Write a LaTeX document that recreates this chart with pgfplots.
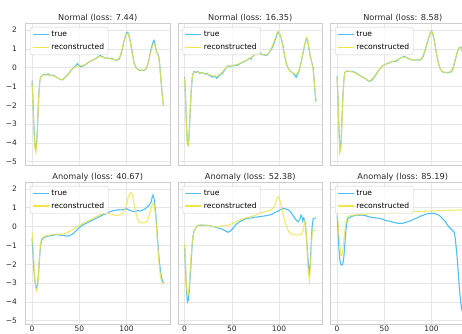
\documentclass[border=0pt]{standalone}
\usepackage{fontspec}
\setmainfont{DejaVu Sans}
\usepackage{pgfplots}
\pgfplotsset{compat=1.18}
\definecolor{trueblue}{RGB}{80,192,242}
\definecolor{reconyellow}{RGB}{240,228,70}
\definecolor{gridgray}{RGB}{230,230,230}
\definecolor{framegray}{RGB}{205,205,205}
\definecolor{labelgray}{RGB}{40,40,40}
\pgfplotsset{
  panel/.style={
    scale only axis, width=144.5pt, height=142pt,
    xmin=-6.95, xmax=145.95, ymin=-5.2, ymax=2.35,
    xtick={0,50,100}, ytick={-5,-4,-3,-2,-1,0,1,2},
    grid=major, major grid style={draw=gridgray, line width=0.6pt},
    axis line style={draw=framegray, line width=0.6pt},
    major tick length=0pt,
    tick label style={font=\fontsize{7.5}{9}\selectfont, text=labelgray},
    yticklabel style={xshift=-5pt},
    xticklabel style={inner ysep=1pt},
    title style={font=\fontsize{8.2}{10}\selectfont, text=labelgray, yshift=-8pt},
    legend style={at={(0,1)}, anchor=north west, xshift=4.5pt, yshift=-3.5pt,
      draw=framegray, rounded corners=2pt, fill=white, fill opacity=0.8, text opacity=1,
      font=\fontsize{7.6}{8.5}\selectfont, inner xsep=2pt, inner ysep=2pt,
      row sep=1.5pt, cells={anchor=west}},
    legend image code/.code={\draw[##1, opacity=1, line width=1.2pt] (0pt,0pt) -- (16pt,0pt);},
  },
  tl/.style={color=trueblue, line width=1.1pt},
  rl/.style={color=reconyellow, line width=1.1pt, opacity=0.8},
  leftcol/.style={yticklabels={−5,−4,−3,−2,−1,0,1,2}},
  othercol/.style={yticklabels={}},
  toprow/.style={xticklabels={}},
  botrow/.style={xticklabels={0,50,100}},
}
\begin{document}
\begin{tikzpicture}
\useasboundingbox (0,0) rectangle (462pt,333pt);
\clip (0,0) rectangle (462pt,333pt);
% ---------- Panel 1
\begin{axis}[panel, leftcol, toprow, at={(25.5pt,167.5pt)}, anchor=south west, title={Normal (loss: 7.44)}]
\addplot[tl] coordinates {(0,-0.7) (1,-1.8) (2,-3.2) (3,-4.1) (4,-4.35) (5,-3.9) (6,-2.8) (7,-1.6) (8,-0.8) (9,-0.5) (11,-0.4) (13,-0.35) (15,-0.38) (17,-0.33) (19,-0.4) (21,-0.42) (23,-0.4) (25,-0.48) (27,-0.55) (29,-0.6) (31,-0.65) (33,-0.62) (35,-0.5) (37,-0.4) (39,-0.3) (41,-0.15) (43,-0.05) (45,0.05) (47,0.15) (48,0.22) (50,0.1) (52,0.05) (54,0.1) (56,0.15) (58,0.22) (60,0.3) (62,0.35) (64,0.4) (66,0.45) (68,0.5) (70,0.58) (72,0.65) (74,0.6) (76,0.55) (78,0.5) (80,0.52) (82,0.48) (84,0.5) (86,0.45) (88,0.42) (90,0.4) (92,0.45) (94,0.7) (96,1.1) (98,1.55) (100,1.85) (101,1.88) (102,1.8) (104,1.4) (106,0.8) (108,0.25) (110,0.0) (112,-0.08) (114,-0.15) (116,-0.12) (118,-0.15) (120,-0.1) (122,0.1) (124,0.5) (126,1.0) (128,1.35) (129,1.45) (130,1.3) (131,1.0) (132,0.8) (133,0.75) (134,0.6) (135,0.2) (136,-0.4) (137,-1.0) (138,-1.6) (139,-2.0)};
\addlegendentry{true}
\addplot[rl] coordinates {(0,-0.8) (1,-2.0) (2,-3.4) (3,-4.3) (4,-4.5) (5,-4.0) (6,-2.8) (7,-1.6) (8,-0.8) (9,-0.5) (11,-0.4) (13,-0.38) (15,-0.38) (17,-0.38) (19,-0.4) (21,-0.42) (23,-0.44) (25,-0.48) (27,-0.54) (29,-0.6) (31,-0.63) (33,-0.6) (35,-0.52) (37,-0.42) (39,-0.3) (41,-0.18) (43,-0.07) (45,0.02) (47,0.08) (49,0.1) (51,0.1) (53,0.12) (55,0.15) (57,0.2) (59,0.27) (61,0.33) (63,0.38) (65,0.43) (67,0.48) (69,0.54) (71,0.58) (73,0.58) (75,0.55) (77,0.52) (79,0.5) (81,0.48) (83,0.47) (85,0.45) (87,0.43) (89,0.42) (91,0.43) (93,0.6) (95,0.95) (97,1.35) (99,1.7) (101,1.82) (102,1.75) (104,1.35) (106,0.75) (108,0.25) (110,0.0) (112,-0.1) (114,-0.13) (116,-0.14) (118,-0.13) (120,-0.08) (122,0.1) (124,0.45) (126,0.9) (128,1.2) (129,1.28) (130,1.2) (131,0.95) (132,0.8) (133,0.7) (134,0.55) (135,0.15) (136,-0.45) (137,-1.05) (138,-1.6) (139,-2.0)};
\addlegendentry{reconstructed}
\end{axis}
% ---------- Panel 2
\begin{axis}[panel, othercol, toprow, at={(178pt,167.5pt)}, anchor=south west, title={Normal (loss: 16.35)}]
\addplot[tl] coordinates {(0,-0.5) (1,-1.5) (2,-3.0) (3,-4.0) (4,-4.1) (5,-3.4) (6,-2.3) (7,-1.3) (8,-0.6) (9,-0.3) (10,-0.2) (12,-0.25) (14,-0.2) (16,-0.3) (18,-0.25) (20,-0.3) (22,-0.35) (24,-0.3) (26,-0.4) (28,-0.45) (30,-0.5) (32,-0.45) (34,-0.55) (36,-0.45) (38,-0.35) (40,-0.3) (42,-0.15) (44,0.0) (46,0.1) (48,0.05) (50,0.12) (52,0.1) (54,0.15) (56,0.12) (58,0.2) (60,0.25) (62,0.3) (64,0.35) (66,0.4) (68,0.5) (70,0.45) (72,0.6) (74,0.7) (76,0.75) (78,0.72) (80,0.8) (82,0.68) (84,0.7) (86,0.65) (88,0.7) (90,0.85) (92,1.0) (94,1.2) (96,1.5) (98,1.8) (99,1.9) (100,1.85) (102,1.6) (104,1.2) (106,0.6) (108,0.15) (110,-0.05) (112,-0.2) (114,-0.25) (116,-0.35) (118,-0.5) (119,-0.4) (121,-0.2) (123,0.2) (125,0.7) (127,1.2) (129,1.55) (130,1.5) (131,1.2) (132,0.9) (133,0.6) (134,0.4) (135,0.2) (136,0.0) (137,-0.6) (138,-1.3) (139,-1.8)};
\addlegendentry{true}
\addplot[rl] coordinates {(0,-0.55) (1,-1.6) (2,-3.1) (3,-4.1) (4,-4.15) (5,-3.3) (6,-2.2) (7,-1.2) (8,-0.55) (9,-0.3) (10,-0.22) (12,-0.22) (14,-0.24) (16,-0.26) (18,-0.28) (20,-0.3) (22,-0.32) (24,-0.34) (26,-0.37) (28,-0.4) (30,-0.43) (32,-0.45) (34,-0.45) (36,-0.4) (38,-0.32) (40,-0.22) (42,-0.1) (44,0.0) (46,0.06) (48,0.09) (50,0.11) (52,0.13) (54,0.15) (56,0.18) (58,0.22) (60,0.27) (62,0.32) (64,0.37) (66,0.42) (68,0.48) (70,0.54) (72,0.6) (74,0.66) (76,0.7) (78,0.72) (80,0.72) (82,0.7) (84,0.68) (86,0.68) (88,0.72) (90,0.85) (92,1.05) (94,1.3) (96,1.6) (98,1.88) (99,1.95) (100,1.9) (102,1.6) (104,1.15) (106,0.6) (108,0.15) (110,-0.08) (112,-0.2) (114,-0.26) (116,-0.3) (118,-0.33) (120,-0.25) (122,0.0) (124,0.45) (126,1.0) (128,1.45) (129,1.62) (130,1.55) (131,1.25) (132,0.9) (133,0.6) (134,0.4) (135,0.15) (136,-0.1) (137,-0.6) (138,-1.2) (139,-1.7)};
\addlegendentry{reconstructed}
\end{axis}
% ---------- Panel 3
\begin{axis}[panel, othercol, toprow, at={(330.5pt,167.5pt)}, anchor=south west, title={Normal (loss: 8.58)}]
\addplot[tl] coordinates {(0,-0.45) (1,-1.6) (2,-3.3) (3,-4.4) (4,-4.2) (5,-3.0) (6,-1.7) (7,-0.8) (8,-0.3) (9,-0.2) (11,-0.18) (13,-0.2) (15,-0.2) (17,-0.22) (19,-0.25) (21,-0.3) (23,-0.38) (25,-0.45) (27,-0.5) (29,-0.55) (31,-0.62) (33,-0.7) (35,-0.72) (37,-0.65) (39,-0.52) (41,-0.38) (43,-0.22) (45,-0.08) (47,0.05) (49,0.12) (51,0.18) (53,0.22) (55,0.25) (57,0.3) (59,0.33) (61,0.33) (63,0.35) (65,0.45) (67,0.5) (69,0.55) (71,0.6) (73,0.55) (75,0.5) (77,0.45) (79,0.42) (81,0.4) (83,0.4) (85,0.42) (87,0.4) (89,0.45) (91,0.6) (93,0.9) (95,1.25) (97,1.6) (99,1.88) (100,1.95) (101,1.85) (103,1.4) (105,0.8) (107,0.3) (109,-0.05) (111,-0.2) (113,-0.25) (115,-0.25) (117,-0.27) (119,-0.25) (121,-0.2) (123,0.0) (125,0.4) (127,0.8) (129,1.05) (131,1.1) (132,0.95) (134,0.6) (136,-0.3) (137,-1.0) (139,-1.9)};
\addlegendentry{true}
\addplot[rl] coordinates {(0,-0.5) (1,-1.7) (2,-3.4) (3,-4.5) (4,-4.3) (5,-3.1) (6,-1.7) (7,-0.8) (8,-0.32) (9,-0.2) (11,-0.18) (13,-0.19) (15,-0.21) (17,-0.24) (19,-0.28) (21,-0.33) (23,-0.39) (25,-0.45) (27,-0.51) (29,-0.57) (31,-0.63) (33,-0.68) (35,-0.68) (37,-0.6) (39,-0.48) (41,-0.34) (43,-0.2) (45,-0.07) (47,0.04) (49,0.12) (51,0.18) (53,0.23) (55,0.27) (57,0.3) (59,0.33) (61,0.36) (63,0.4) (65,0.45) (67,0.5) (69,0.54) (71,0.56) (73,0.54) (75,0.5) (77,0.46) (79,0.43) (81,0.41) (83,0.4) (85,0.41) (87,0.42) (89,0.48) (91,0.65) (93,0.95) (95,1.3) (97,1.65) (99,1.9) (100,1.95) (101,1.85) (103,1.4) (105,0.8) (107,0.3) (109,-0.05) (111,-0.18) (113,-0.23) (115,-0.25) (117,-0.25) (119,-0.23) (121,-0.15) (123,0.05) (125,0.45) (127,0.82) (129,1.05) (131,1.08) (132,0.95) (134,0.6) (136,-0.3) (137,-1.0) (139,-1.9)};
\addlegendentry{reconstructed}
\end{axis}
% ---------- Panel 4
\begin{axis}[panel, leftcol, botrow, at={(25.5pt,8.6pt)}, anchor=south west, title={Anomaly (loss: 40.67)}]
\addplot[tl] coordinates {(0,-0.6) (1,-1.4) (2,-2.3) (3,-2.9) (4,-3.2) (5,-3.25) (6,-3.0) (7,-2.4) (8,-1.6) (9,-1.0) (10,-0.75) (12,-0.6) (14,-0.55) (16,-0.52) (18,-0.5) (20,-0.48) (22,-0.46) (24,-0.44) (26,-0.42) (28,-0.44) (30,-0.45) (32,-0.47) (34,-0.48) (36,-0.5) (38,-0.5) (40,-0.48) (42,-0.42) (44,-0.35) (46,-0.25) (48,-0.15) (50,-0.05) (52,0.03) (54,0.1) (56,0.15) (58,0.2) (60,0.25) (62,0.3) (64,0.35) (66,0.4) (68,0.45) (70,0.5) (72,0.55) (74,0.6) (76,0.65) (78,0.68) (80,0.72) (82,0.78) (84,0.82) (86,0.85) (88,0.87) (90,0.88) (92,0.9) (94,0.88) (96,0.9) (98,0.92) (100,0.95) (102,0.9) (104,0.85) (106,0.82) (108,0.8) (110,0.82) (112,0.85) (114,0.83) (116,0.85) (118,0.9) (120,0.95) (122,1.05) (124,1.15) (126,1.3) (127,1.55) (128,1.68) (129,1.5) (130,1.1) (131,0.6) (132,-0.1) (133,-0.8) (134,-1.5) (135,-2.0) (136,-2.4) (137,-2.7) (138,-2.9) (139,-3.0)};
\addlegendentry{true}
\addplot[rl] coordinates {(0,-0.3) (1,-1.0) (2,-2.0) (3,-2.9) (4,-3.35) (5,-3.45) (6,-3.2) (7,-2.4) (8,-1.5) (9,-0.9) (10,-0.65) (12,-0.55) (14,-0.5) (16,-0.48) (18,-0.46) (20,-0.44) (22,-0.42) (24,-0.4) (26,-0.4) (28,-0.42) (30,-0.42) (32,-0.4) (34,-0.38) (36,-0.35) (38,-0.3) (40,-0.25) (42,-0.2) (44,-0.12) (46,-0.05) (48,0.0) (50,0.05) (52,0.12) (54,0.18) (56,0.22) (58,0.28) (60,0.32) (62,0.38) (64,0.42) (66,0.48) (68,0.52) (70,0.58) (72,0.62) (74,0.68) (76,0.72) (78,0.72) (80,0.7) (82,0.68) (84,0.65) (86,0.62) (88,0.6) (90,0.6) (92,0.62) (94,0.65) (96,0.72) (98,0.9) (100,1.2) (102,1.6) (104,1.8) (105,1.82) (106,1.7) (108,1.2) (110,0.7) (112,0.35) (114,0.22) (116,0.2) (118,0.2) (120,0.22) (122,0.3) (124,0.6) (126,1.0) (128,1.25) (129,1.2) (130,0.9) (131,0.4) (132,-0.3) (133,-1.0) (134,-1.7) (135,-2.3) (136,-2.7) (137,-2.9) (138,-3.0) (139,-3.0)};
\addlegendentry{reconstructed}
\end{axis}
% ---------- Panel 5
\begin{axis}[panel, othercol, botrow, at={(178pt,8.6pt)}, anchor=south west, title={Anomaly (loss: 52.38)}]
\addplot[tl] coordinates {(0,-1.0) (1,-2.2) (2,-3.4) (3,-4.0) (4,-3.9) (5,-3.4) (6,-2.6) (7,-1.8) (8,-1.0) (9,-0.5) (10,-0.25) (12,-0.05) (14,0.05) (16,0.08) (18,0.07) (20,0.08) (22,0.06) (24,0.07) (26,0.05) (28,0.03) (30,0.0) (32,-0.02) (34,-0.05) (36,-0.08) (38,-0.1) (40,-0.15) (42,-0.2) (44,-0.25) (46,-0.3) (48,-0.25) (50,-0.15) (52,-0.05) (54,0.1) (56,0.18) (58,0.25) (60,0.3) (62,0.35) (64,0.4) (66,0.43) (68,0.45) (70,0.45) (72,0.48) (74,0.5) (76,0.5) (78,0.52) (80,0.53) (82,0.55) (84,0.56) (86,0.58) (88,0.6) (90,0.62) (92,0.65) (94,0.7) (96,0.76) (98,0.8) (100,0.85) (102,0.92) (104,0.97) (106,0.95) (108,0.92) (110,0.88) (112,0.8) (114,0.65) (116,0.5) (118,0.35) (120,0.25) (122,0.4) (123,0.6) (124,0.55) (125,0.3) (126,0.45) (127,0.35) (128,0.0) (129,-0.6) (130,-1.3) (131,-2.0) (132,-2.45) (133,-2.0) (134,-0.9) (135,0.0) (136,0.4) (137,0.45) (139,0.45)};
\addlegendentry{true}
\addplot[rl] coordinates {(0,-0.9) (1,-2.0) (2,-3.1) (3,-3.65) (4,-3.6) (5,-3.1) (6,-2.3) (7,-1.5) (8,-0.9) (9,-0.5) (10,-0.25) (12,-0.05) (14,0.05) (16,0.08) (18,0.08) (20,0.08) (22,0.07) (24,0.06) (26,0.05) (28,0.03) (30,0.0) (32,-0.02) (34,-0.02) (36,0.0) (38,0.02) (40,0.04) (42,0.05) (44,0.06) (46,0.07) (48,0.1) (50,0.15) (52,0.2) (54,0.25) (56,0.3) (58,0.35) (60,0.38) (62,0.42) (64,0.45) (66,0.48) (68,0.5) (70,0.53) (72,0.56) (74,0.6) (76,0.63) (78,0.66) (80,0.7) (82,0.74) (84,0.78) (86,0.8) (88,0.82) (90,0.85) (92,0.9) (94,1.0) (96,1.2) (98,1.5) (99,1.6) (100,1.55) (102,1.2) (104,0.7) (106,0.3) (108,0.0) (110,-0.25) (112,-0.35) (114,-0.4) (116,-0.42) (118,-0.45) (120,-0.45) (122,-0.42) (124,-0.4) (126,-0.1) (127,0.25) (128,0.1) (129,-0.5) (130,-1.6) (131,-2.5) (132,-2.9) (133,-2.3) (134,-1.2) (135,-0.4) (136,-0.2) (139,-0.2)};
\addlegendentry{reconstructed}
\end{axis}
% ---------- Panel 6
\begin{axis}[panel, othercol, botrow, at={(330.5pt,8.6pt)}, anchor=south west, title={Anomaly (loss: 85.19)}]
\addplot[tl] coordinates {(0,0.6) (1,-0.2) (2,-1.2) (3,-1.8) (4,-2.0) (5,-2.05) (6,-2.0) (7,-1.7) (8,-1.1) (9,-0.4) (10,0.1) (11,0.35) (12,0.45) (14,0.5) (16,0.55) (18,0.58) (20,0.6) (22,0.62) (24,0.6) (26,0.62) (28,0.6) (30,0.58) (32,0.55) (34,0.52) (36,0.5) (38,0.48) (40,0.48) (42,0.45) (44,0.45) (46,0.42) (48,0.4) (50,0.35) (52,0.32) (54,0.3) (56,0.28) (58,0.25) (60,0.22) (62,0.2) (64,0.18) (66,0.18) (68,0.17) (70,0.18) (72,0.22) (74,0.25) (76,0.28) (78,0.32) (80,0.36) (82,0.42) (84,0.45) (86,0.5) (88,0.55) (90,0.58) (92,0.62) (94,0.66) (96,0.7) (98,0.68) (100,0.72) (102,0.7) (104,0.68) (106,0.65) (108,0.6) (110,0.5) (112,0.4) (114,0.3) (116,0.15) (118,0.0) (120,-0.1) (122,-0.2) (124,-0.3) (125,-0.6) (126,-1.1) (127,-1.6) (128,-2.3) (129,-3.0) (130,-3.6) (131,-4.1) (132,-4.4) (133,-4.6) (134,-4.8) (135,-4.85) (136,-4.8) (137,-4.7) (139,-4.6)};
\addlegendentry{true}
\addplot[rl] coordinates {(0,0.8) (1,0.3) (2,-0.5) (3,-1.1) (4,-1.5) (5,-1.55) (6,-1.3) (7,-0.8) (8,-0.3) (9,0.1) (10,0.35) (11,0.5) (12,0.55) (14,0.58) (16,0.6) (20,0.62) (25,0.64) (30,0.66) (40,0.7) (50,0.72) (60,0.75) (70,0.77) (80,0.79) (90,0.81) (100,0.83) (110,0.85) (120,0.87) (130,0.88) (139,0.9)};
\addlegendentry{reconstructed}
\end{axis}
\end{tikzpicture}
\end{document}
